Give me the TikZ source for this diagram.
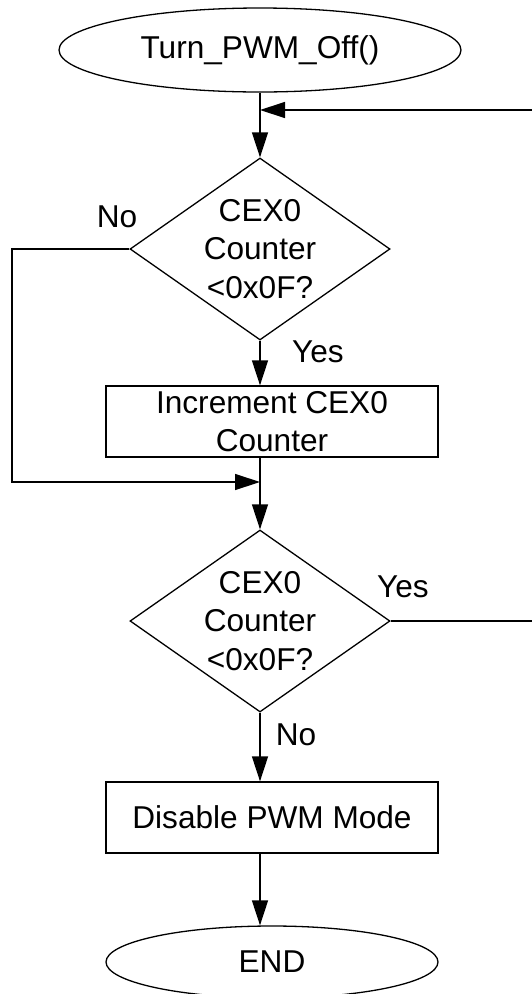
\documentclass[tikz,border=0pt]{standalone}
\usepackage{fontspec}
\setmainfont{Liberation Sans}
\usetikzlibrary{shapes.geometric,arrows.meta}
\begin{document}
\begin{tikzpicture}[x=1pt,y=-1pt,
  every node/.style={font=\fontsize{31.6}{38.5}\selectfont},
  base/.style={draw,line width=1.3pt,inner sep=0pt},
  term/.style={base,ellipse},
  dia/.style={base,diamond,minimum width=260pt,minimum height=182pt},
  proc/.style={base,rectangle,minimum width=332pt,minimum height=71pt,align=center},
  txt/.style={align=center,inner sep=0pt},
  conn/.style={line width=1.3pt},
  arr/.style={conn,-{Triangle[length=25pt,width=16pt]}}]
\useasboundingbox (0,0) rectangle (532,994);
\node[term,minimum width=402pt,minimum height=84pt] (start) at (260,50) {Turn\_PWM\_Off()};
\node[dia] (d1) at (260,249) {};
\node[txt] (t1) at (d1) {CEX0\\Counter\\<0x0F?};
\node[proc] (b1) at (272,421.5) {Increment CEX0\\Counter};
\node[dia] (d2) at (260,621) {};
\node[txt] (t2) at (d2) {CEX0\\Counter\\<0x0F?};
\node[proc] (b2) at (272,817.5) {Disable PWM Mode};
\node[term,minimum width=332pt,minimum height=72pt] (end) at (272,962) {END};
\node (lno1) at (117,217) {No};
\node (lyes1) at (318,352) {Yes};
\node (lyes2) at (403,587) {Yes};
\node (lno2) at (296,735) {No};
\coordinate (m1) at (260,110);
\coordinate (m2) at (260,482);
\coordinate (rx) at (537,0);
\coordinate (lx) at (12,0);
\draw[arr] (start.south) -- (d1.north);
\draw[arr] (d2.east) -- (d2.east -| rx) |- (m1);
\draw[arr] (d1.west) -- (d1.west -| lx) |- (m2);
\draw[arr] (d1.south) -- (d1.south |- b1.north);
\draw[arr] (d2.north |- b1.south) -- (d2.north);
\draw[arr] (d2.south) -- (d2.south |- b2.north);
\draw[arr] (d2.south |- b2.south) -- (d2.south |- end.north);
\end{tikzpicture}
\end{document}
